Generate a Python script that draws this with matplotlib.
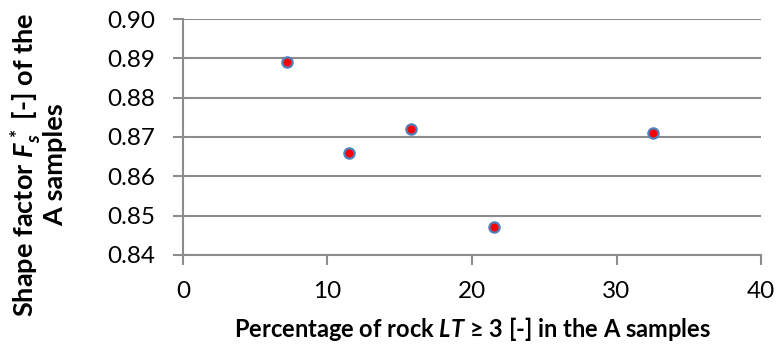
import matplotlib
matplotlib.use("Agg")
import matplotlib.pyplot as plt

# Rock share with LT >= 3 (%) and shape factor Fs* for the A samples
pct_lt3 = [7.2, 11.5, 15.8, 21.5, 32.5]
shape_factor = [0.889, 0.866, 0.872, 0.847, 0.871]

x_ticks = [0, 10, 20, 30, 40]
y_ticks = [0.84, 0.85, 0.86, 0.87, 0.88, 0.89, 0.90]

plt.rcParams["font.family"] = ["Lato", "DejaVu Sans"]
plt.rcParams["mathtext.fontset"] = "custom"
plt.rcParams["mathtext.rm"] = "Lato:bold"
plt.rcParams["mathtext.it"] = "Lato:italic:bold"
plt.rcParams["mathtext.bf"] = "Lato:bold"
plt.rcParams["mathtext.bfit"] = "Lato:italic:bold"

grid_col = "#8c8c8c"

fig = plt.figure(figsize=(7.76, 3.45), dpi=100)
ax = fig.add_axes([0.2358, 0.2609, 0.7449, 0.6840])

ax.scatter(pct_lt3, shape_factor, s=55, c="#ff0000", edgecolors="#4f81bd",
           linewidths=1.6, zorder=3, clip_on=False)

ax.set_xlim(0, 40)
ax.set_ylim(0.84, 0.90)
ax.set_xticks(x_ticks)
ax.set_yticks(y_ticks)
ax.set_xticklabels([f"{v}" for v in x_ticks])
ax.set_yticklabels([f"{v:.2f}" for v in y_ticks])

ax.grid(axis="y", color=grid_col, linewidth=1.5)
ax.set_axisbelow(True)
for side in ("top", "right"):
    ax.spines[side].set_visible(False)
for side in ("left", "bottom"):
    ax.spines[side].set_color(grid_col)
    ax.spines[side].set_linewidth(1.5)

ax.tick_params(axis="both", direction="out", length=7, width=1.5,
               color=grid_col, labelsize=17.5, labelcolor="black")
ax.tick_params(axis="x", pad=12)
ax.tick_params(axis="y", pad=13)

ax.set_xlabel(r"Percentage of rock $\mathbfit{LT}$ ≥ 3 [-] in the A samples",
              fontsize=17, fontweight="bold", labelpad=9)

# y label sits a little below the axes centre, so place it on the figure
fig.text(0.049, 0.522,
         "Shape factor $\\mathbfit{F}_{\\mathbfit{s}}^{\\,*}$ [-] of the\nA samples",
         rotation=90, ha="center", va="center", multialignment="center",
         fontsize=19.5, fontweight="bold", linespacing=1.0)

fig.savefig("out.png", dpi=100)
